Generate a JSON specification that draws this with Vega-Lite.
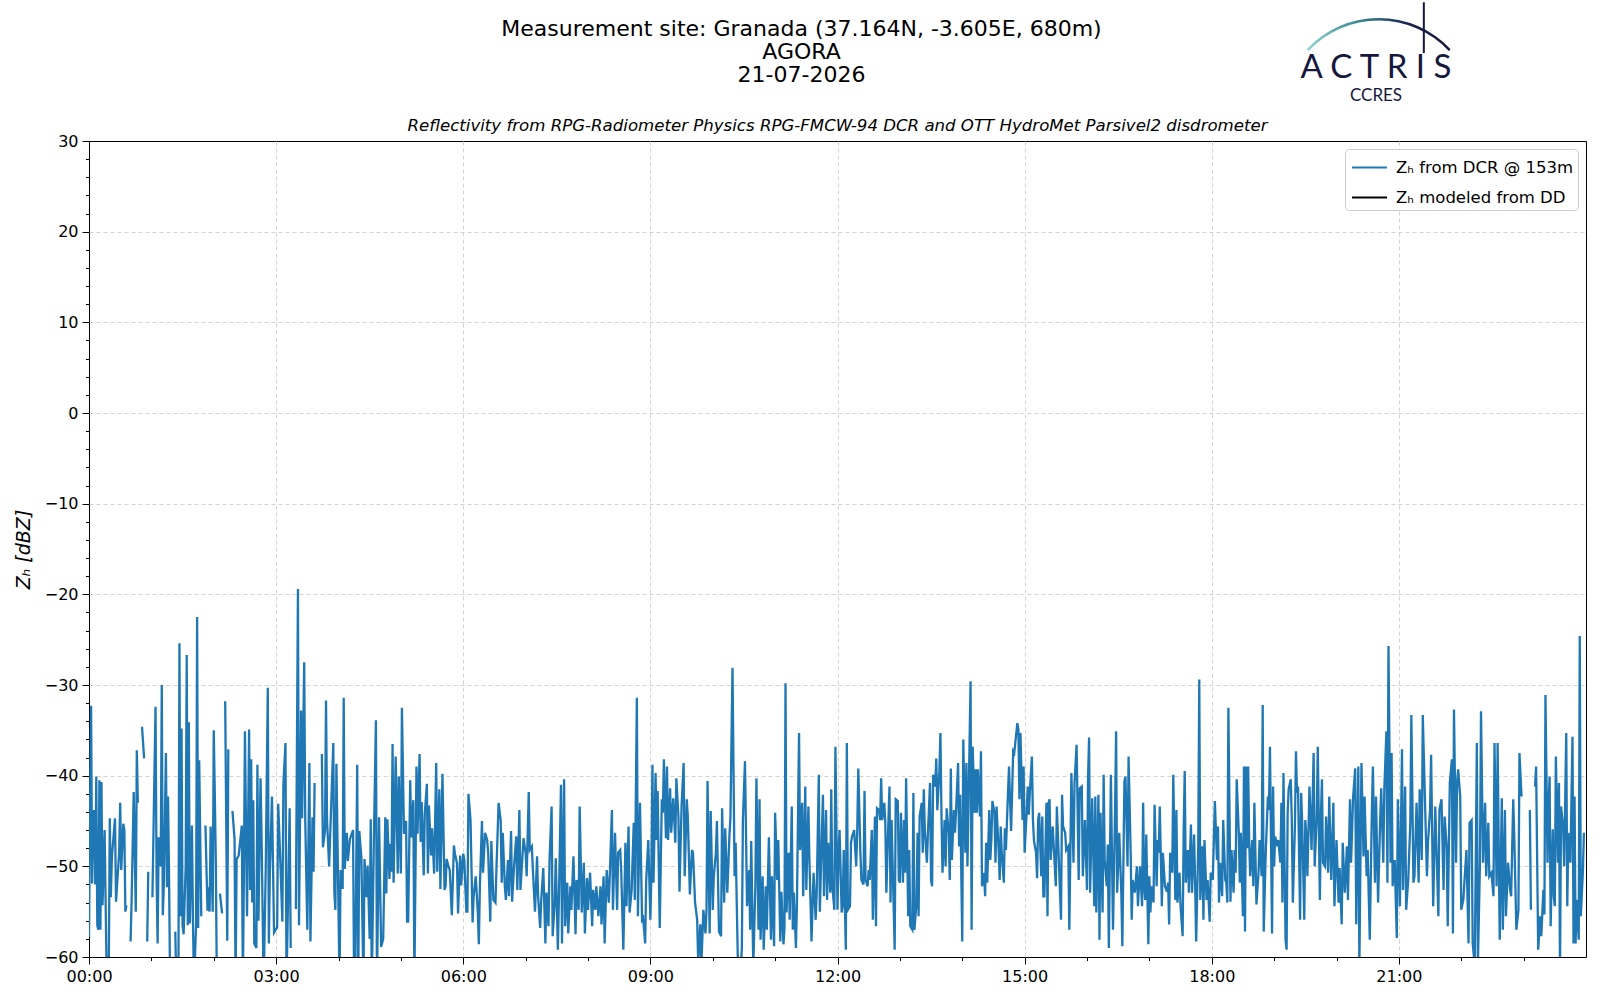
{
  "$schema": "https://vega.github.io/schema/vega-lite/v6.json",
  "width": 1497,
  "height": 816,
  "autosize": "none",
  "padding": {"left": 89, "top": 141, "right": 14, "bottom": 43},
  "background": "white",
  "config": {
    "font": "DejaVu Sans",
    "view": {"stroke": "black", "strokeWidth": 1},
    "axis": {
      "labelFont": "DejaVu Sans",
      "labelFontSize": 16,
      "labelColor": "black",
      "tickColor": "black",
      "domainColor": "black",
      "titleFont": "DejaVu Sans",
      "titleColor": "black",
      "titleFontWeight": "normal"
    },
    "legend": {
      "orient": "top-right",
      "offset": 8,
      "symbolType": "M-1.3,0H1.3",
      "symbolStrokeWidth": 2,
      "symbolSize": 729,
      "symbolOffset": 6,
      "labelFont": "DejaVu Sans",
      "labelFontSize": 16.5,
      "labelColor": "black",
      "labelLimit": 0,
      "labelOffset": 12,
      "fillColor": "white",
      "strokeColor": "#cccccc",
      "cornerRadius": 4,
      "padding": 4,
      "rowPadding": 7
    }
  },
  "title": {
    "text": ["Measurement site: Granada (37.164N, -3.605E, 680m)", "AGORA", "21-07-2026"],
    "font": "DejaVu Sans",
    "fontSize": 22,
    "fontWeight": "normal",
    "lineHeight": 23,
    "color": "black",
    "anchor": "middle",
    "dx": -36,
    "offset": -86
  },
  "data": {
    "format": {"parse": {"t": "date:'%H:%M'"}},
    "values": [
      {"t":"00:00","z":-57.8},{"t":"00:01","z":-44},{"t":"00:02","z":-32.3},{"t":"00:03","z":-51.9},{"t":"00:04","z":-44.4},{"t":"00:05","z":-43.8},{"t":"00:06","z":-52},{"t":"00:07","z":-40.1},{"t":"00:08","z":-56.5},{"t":"00:09","z":-57},{"t":"00:10","z":-40.5},{"t":"00:11","z":-57},{"t":"00:12","z":-40.7},{"t":"00:13","z":-54.3},{"t":"00:15","z":-46},{"t":"00:16","z":-54},{"t":"00:17","z":-62},{"t":"00:19","z":-62},{"t":"00:20","z":-44.7},{"t":"00:21","z":-53.4},{"t":"00:22","z":-49},{"t":"00:25","z":-44.7},{"t":"00:26","z":-53.9},{"t":"00:29","z":-48.5},{"t":"00:30","z":-43},{"t":"00:31","z":-50.4},{"t":"00:33","z":-45.3},{"t":"00:34","z":-46},{"t":"00:35","z":-55},{"t":"00:36","z":-54.3},{"t":"00:38","z":null},{"t":"00:40","z":-58.3},{"t":"00:41","z":-53.7},{"t":"00:43","z":-41.8},{"t":"00:45","z":-55},{"t":"00:46","z":-37.2},{"t":"00:47","z":-43},{"t":"00:49","z":null},{"t":"00:51","z":-34.6},{"t":"00:53","z":-38.1},{"t":"00:54","z":null},{"t":"00:56","z":-58.3},{"t":"00:57","z":-50.6},{"t":"00:59","z":null},
      {"t":"01:01","z":-53.4},{"t":"01:04","z":-32.4},{"t":"01:05","z":-51},{"t":"01:06","z":-58.5},{"t":"01:07","z":-46.8},{"t":"01:09","z":-50},{"t":"01:10","z":-30},{"t":"01:11","z":-55.4},{"t":"01:12","z":-52},{"t":"01:14","z":-37.5},{"t":"01:15","z":-52.3},{"t":"01:16","z":-42.3},{"t":"01:17","z":-51},{"t":"01:18","z":-63},{"t":"01:20","z":null},{"t":"01:23","z":-57.2},{"t":"01:24","z":-63},{"t":"01:26","z":-63},{"t":"01:27","z":-25.4},{"t":"01:28","z":-55.5},{"t":"01:29","z":-34.8},{"t":"01:30","z":-56.5},{"t":"01:31","z":-57.5},{"t":"01:33","z":-50},{"t":"01:34","z":-26.7},{"t":"01:35","z":-56.5},{"t":"01:36","z":-34.1},{"t":"01:37","z":-56.3},{"t":"01:39","z":-45.5},{"t":"01:40","z":-56},{"t":"01:41","z":-63},{"t":"01:43","z":-56.5},{"t":"01:44","z":-22.5},{"t":"01:45","z":-56.8},{"t":"01:46","z":-38.3},{"t":"01:48","z":-55.5},{"t":"01:50","z":null},{"t":"01:52","z":-45.5},{"t":"01:54","z":-54.9},{"t":"01:55","z":-52.3},{"t":"01:56","z":-55},{"t":"01:57","z":-45.6},{"t":"01:59","z":-55},
      {"t":"02:00","z":-35},{"t":"02:01","z":-42},{"t":"02:02","z":-49.7},{"t":"02:03","z":-63},{"t":"02:05","z":null},{"t":"02:06","z":-53},{"t":"02:08","z":-55.2},{"t":"02:10","z":null},{"t":"02:11","z":-31.8},{"t":"02:13","z":-58.2},{"t":"02:14","z":-37.1},{"t":"02:16","z":null},{"t":"02:18","z":-43.9},{"t":"02:20","z":-47},{"t":"02:21","z":-63},{"t":"02:22","z":-49.2},{"t":"02:24","z":-48.8},{"t":"02:27","z":-45.5},{"t":"02:28","z":-63},{"t":"02:29","z":-51},{"t":"02:30","z":-35.1},{"t":"02:32","z":-55.5},{"t":"02:33","z":-46},{"t":"02:34","z":-34.9},{"t":"02:35","z":-52.6},{"t":"02:36","z":-38.2},{"t":"02:37","z":-54},{"t":"02:38","z":-42.7},{"t":"02:39","z":-58.5},{"t":"02:41","z":-59},{"t":"02:42","z":-38.8},{"t":"02:43","z":-56},{"t":"02:45","z":-40.3},{"t":"02:46","z":-46.7},{"t":"02:48","z":-63},{"t":"02:50","z":-50.4},{"t":"02:52","z":-30.3},{"t":"02:53","z":-58.5},{"t":"02:54","z":-50.4},{"t":"02:56","z":-42.3},{"t":"02:57","z":-50},{"t":"02:58","z":-57.3},
      {"t":"03:01","z":-56.7},{"t":"03:02","z":-43.1},{"t":"03:04","z":-49.3},{"t":"03:06","z":-56.1},{"t":"03:07","z":-40.9},{"t":"03:09","z":-36.4},{"t":"03:10","z":-63},{"t":"03:13","z":-43.6},{"t":"03:14","z":-59},{"t":"03:16","z":null},{"t":"03:19","z":-54.7},{"t":"03:21","z":-19.4},{"t":"03:22","z":-56.5},{"t":"03:24","z":-32.8},{"t":"03:25","z":-44.7},{"t":"03:27","z":-27.5},{"t":"03:28","z":-44.8},{"t":"03:30","z":-57},{"t":"03:32","z":-38.6},{"t":"03:33","z":-58.3},{"t":"03:35","z":-44.6},{"t":"03:36","z":-50.6},{"t":"03:37","z":-40.8},{"t":"03:39","z":null},{"t":"03:44","z":-37.6},{"t":"03:45","z":-47.9},{"t":"03:47","z":-46.1},{"t":"03:48","z":-31.7},{"t":"03:49","z":-45},{"t":"03:51","z":-50},{"t":"03:55","z":-36.4},{"t":"03:56","z":-52.8},{"t":"03:57","z":-54.8},{"t":"03:58","z":-38.7},
      {"t":"04:01","z":-63},{"t":"04:02","z":-50.4},{"t":"04:04","z":-52.5},{"t":"04:05","z":-31.4},{"t":"04:06","z":-50.3},{"t":"04:08","z":-46.3},{"t":"04:09","z":-49.4},{"t":"04:11","z":-47},{"t":"04:14","z":-46},{"t":"04:15","z":-63},{"t":"04:16","z":-63},{"t":"04:18","z":-38.8},{"t":"04:19","z":-63},{"t":"04:20","z":-46.1},{"t":"04:22","z":-49},{"t":"04:24","z":-63},{"t":"04:25","z":-49.2},{"t":"04:27","z":-53.4},{"t":"04:28","z":-49.9},{"t":"04:30","z":-58},{"t":"04:31","z":-44.8},{"t":"04:32","z":-63},{"t":"04:34","z":-47.3},{"t":"04:36","z":-33.9},{"t":"04:37","z":-63},{"t":"04:39","z":-44.6},{"t":"04:41","z":-58.9},{"t":"04:43","z":-58},{"t":"04:45","z":-44.6},{"t":"04:46","z":-53},{"t":"04:47","z":-44.8},{"t":"04:49","z":-51.4},{"t":"04:50","z":-47.5},{"t":"04:51","z":-50.6},{"t":"04:52","z":-36.5},{"t":"04:53","z":-51.8},{"t":"04:55","z":-37.9},{"t":"04:57","z":-50.8},{"t":"04:58","z":-40.1},
      {"t":"05:00","z":-50.8},{"t":"05:01","z":-32.5},{"t":"05:03","z":-46.4},{"t":"05:05","z":-45},{"t":"05:06","z":-56.1},{"t":"05:07","z":-56.1},{"t":"05:09","z":-40.5},{"t":"05:10","z":-46.8},{"t":"05:12","z":-42.7},{"t":"05:13","z":-63},{"t":"05:15","z":-39},{"t":"05:16","z":-46.4},{"t":"05:18","z":-37.6},{"t":"05:19","z":-47.3},{"t":"05:20","z":-42.9},{"t":"05:22","z":-51},{"t":"05:23","z":-44.2},{"t":"05:25","z":-40.9},{"t":"05:26","z":-50.8},{"t":"05:27","z":-43.3},{"t":"05:29","z":-48.8},{"t":"05:30","z":-45.8},{"t":"05:32","z":-50.8},{"t":"05:34","z":-38.6},{"t":"05:35","z":-50.6},{"t":"05:37","z":-41.5},{"t":"05:38","z":-52.5},{"t":"05:40","z":-39.8},{"t":"05:42","z":-52.6},{"t":"05:43","z":-52.2},{"t":"05:44","z":-49.2},{"t":"05:46","z":-50.1},{"t":"05:47","z":-50.4},{"t":"05:49","z":-55.4},{"t":"05:51","z":-47.7},{"t":"05:52","z":-48.6},{"t":"05:54","z":-49.7},{"t":"05:55","z":-55.2},{"t":"05:57","z":-48.8},{"t":"05:58","z":-52.1},
      {"t":"06:00","z":-48.6},{"t":"06:01","z":-49.3},{"t":"06:03","z":-55},{"t":"06:04","z":-55},{"t":"06:05","z":-42},{"t":"06:07","z":-44.9},{"t":"06:09","z":-56.2},{"t":"06:10","z":-53.3},{"t":"06:12","z":-51.1},{"t":"06:14","z":-55.1},{"t":"06:15","z":-58.6},{"t":"06:16","z":-52.2},{"t":"06:18","z":-45},{"t":"06:19","z":-50.7},{"t":"06:21","z":-46.3},{"t":"06:23","z":-47.1},{"t":"06:24","z":-48.5},{"t":"06:26","z":-56.1},{"t":"06:27","z":-47.2},{"t":"06:29","z":-53.7},{"t":"06:31","z":-54},{"t":"06:32","z":-50},{"t":"06:34","z":-43},{"t":"06:36","z":-44.9},{"t":"06:37","z":-51.8},{"t":"06:38","z":-46.3},{"t":"06:40","z":-52.2},{"t":"06:41","z":-53.7},{"t":"06:43","z":-49.3},{"t":"06:44","z":-53.3},{"t":"06:46","z":-46.1},{"t":"06:47","z":-53.9},{"t":"06:49","z":-49.8},{"t":"06:51","z":-46.7},{"t":"06:52","z":-52.6},{"t":"06:54","z":-43.8},{"t":"06:55","z":-52.6},{"t":"06:58","z":-46.9},
      {"t":"07:00","z":-48.5},{"t":"07:01","z":-51.1},{"t":"07:03","z":-41.8},{"t":"07:04","z":-48.2},{"t":"07:06","z":-47.8},{"t":"07:07","z":-50.4},{"t":"07:09","z":-55},{"t":"07:11","z":-48.9},{"t":"07:12","z":-53.3},{"t":"07:14","z":-56.8},{"t":"07:15","z":-53.7},{"t":"07:17","z":-50.2},{"t":"07:19","z":-58.5},{"t":"07:20","z":-52.9},{"t":"07:22","z":-56.6},{"t":"07:23","z":-49.3},{"t":"07:25","z":-43.4},{"t":"07:26","z":-57.7},{"t":"07:28","z":-54},{"t":"07:29","z":-49.1},{"t":"07:31","z":-59.2},{"t":"07:32","z":-53.7},{"t":"07:34","z":-41},{"t":"07:35","z":-58.5},{"t":"07:37","z":-40.4},{"t":"07:38","z":-56.6},{"t":"07:40","z":-51.8},{"t":"07:41","z":-57.4},{"t":"07:43","z":-52.2},{"t":"07:44","z":-54.8},{"t":"07:46","z":-48.9},{"t":"07:48","z":-57.5},{"t":"07:49","z":-51.5},{"t":"07:51","z":-54.8},{"t":"07:52","z":-43.4},{"t":"07:54","z":-55.1},{"t":"07:56","z":-49.6},{"t":"07:57","z":-57.4},{"t":"07:59","z":-51.3},
      {"t":"08:00","z":-54.8},{"t":"08:02","z":-50.7},{"t":"08:04","z":-56.6},{"t":"08:05","z":-52.6},{"t":"08:07","z":-54.8},{"t":"08:08","z":-52.2},{"t":"08:10","z":-55.5},{"t":"08:12","z":-52.2},{"t":"08:13","z":-56.4},{"t":"08:15","z":-51.1},{"t":"08:16","z":-58.5},{"t":"08:18","z":-50.4},{"t":"08:20","z":-54},{"t":"08:21","z":-50.9},{"t":"08:23","z":-43.8},{"t":"08:24","z":-54.8},{"t":"08:26","z":-46.3},{"t":"08:28","z":-54.8},{"t":"08:29","z":-48.5},{"t":"08:31","z":-48.2},{"t":"08:32","z":-50.7},{"t":"08:34","z":-59.2},{"t":"08:36","z":-47.4},{"t":"08:37","z":-54.4},{"t":"08:39","z":-45.6},{"t":"08:40","z":-55.1},{"t":"08:42","z":-52.6},{"t":"08:44","z":-45.2},{"t":"08:45","z":-53.7},{"t":"08:47","z":-31.4},{"t":"08:48","z":-55.5},{"t":"08:50","z":-43},{"t":"08:52","z":-55.9},{"t":"08:53","z":-55.7},{"t":"08:55","z":-58.5},{"t":"08:56","z":-51.5},{"t":"08:58","z":-47.1},
      {"t":"09:00","z":-55.9},{"t":"09:01","z":-50.7},{"t":"09:02","z":-38.8},{"t":"09:03","z":-51.8},{"t":"09:05","z":-39.7},{"t":"09:06","z":-47.1},{"t":"09:07","z":-41.7},{"t":"09:09","z":-56.8},{"t":"09:11","z":-42.6},{"t":"09:12","z":-44.1},{"t":"09:13","z":-38.2},{"t":"09:15","z":-46.9},{"t":"09:16","z":-39},{"t":"09:17","z":-47.1},{"t":"09:19","z":-41.4},{"t":"09:20","z":-46.3},{"t":"09:22","z":-42.5},{"t":"09:24","z":-47.4},{"t":"09:25","z":-40.3},{"t":"09:27","z":-44.5},{"t":"09:28","z":-52.8},{"t":"09:30","z":-43.4},{"t":"09:32","z":-38.6},{"t":"09:33","z":-51.1},{"t":"09:35","z":-42.6},{"t":"09:36","z":-44.5},{"t":"09:38","z":-53.1},{"t":"09:40","z":-48.2},{"t":"09:41","z":-48.5},{"t":"09:43","z":-54},{"t":"09:45","z":-55.9},{"t":"09:46","z":-60.5},{"t":"09:48","z":-56.4},{"t":"09:49","z":-61},{"t":"09:51","z":-54.8},{"t":"09:53","z":-57.4},{"t":"09:54","z":-54.8},{"t":"09:55","z":-40.6},{"t":"09:57","z":-57.4},{"t":"09:58","z":-43.9},
      {"t":"10:00","z":-54.8},{"t":"10:01","z":-51.1},{"t":"10:03","z":-48.5},{"t":"10:04","z":-45},{"t":"10:06","z":-57.2},{"t":"10:08","z":-57.7},{"t":"10:09","z":-43.6},{"t":"10:11","z":-54},{"t":"10:12","z":-45.8},{"t":"10:14","z":-52.9},{"t":"10:16","z":-46.7},{"t":"10:17","z":-44.7},{"t":"10:19","z":-28.1},{"t":"10:21","z":-51.1},{"t":"10:22","z":-47.4},{"t":"10:24","z":-59.6},{"t":"10:25","z":-63},{"t":"10:26","z":-63},{"t":"10:28","z":-59},{"t":"10:29","z":-44.9},{"t":"10:31","z":-38.4},{"t":"10:33","z":-54.4},{"t":"10:35","z":-50.4},{"t":"10:36","z":-57},{"t":"10:37","z":-47.2},{"t":"10:39","z":-61},{"t":"10:41","z":-52.2},{"t":"10:42","z":-40.3},{"t":"10:44","z":-57},{"t":"10:45","z":-42.6},{"t":"10:46","z":-58.1},{"t":"10:48","z":-51.1},{"t":"10:49","z":-59.2},{"t":"10:51","z":-52.2},{"t":"10:52","z":-57},{"t":"10:54","z":-46.8},{"t":"10:56","z":-58.1},{"t":"10:57","z":-51.1},{"t":"10:59","z":-58.8},
      {"t":"11:00","z":-44.1},{"t":"11:02","z":-51.5},{"t":"11:03","z":-47.1},{"t":"11:05","z":-58.3},{"t":"11:06","z":-52.8},{"t":"11:08","z":-58.6},{"t":"11:09","z":-56.8},{"t":"11:10","z":-29.8},{"t":"11:11","z":-55.1},{"t":"11:13","z":-48.5},{"t":"11:14","z":-55.9},{"t":"11:16","z":-43.4},{"t":"11:17","z":-57},{"t":"11:18","z":-52.9},{"t":"11:20","z":-59},{"t":"11:21","z":-54},{"t":"11:23","z":-35.3},{"t":"11:24","z":-48.2},{"t":"11:26","z":-43},{"t":"11:27","z":-53.3},{"t":"11:29","z":-41.2},{"t":"11:30","z":-52.6},{"t":"11:32","z":-43.4},{"t":"11:33","z":-49.3},{"t":"11:35","z":-58.3},{"t":"11:36","z":-54.4},{"t":"11:37","z":-50.7},{"t":"11:39","z":-55.9},{"t":"11:40","z":-52.9},{"t":"11:42","z":-39.9},{"t":"11:43","z":-55},{"t":"11:45","z":-46.3},{"t":"11:46","z":-42.1},{"t":"11:47","z":-53.3},{"t":"11:49","z":-43.8},{"t":"11:50","z":-53.7},{"t":"11:51","z":-47.4},{"t":"11:53","z":-52.9},{"t":"11:54","z":-41.5},{"t":"11:55","z":-52.2},{"t":"11:57","z":-54.8},{"t":"11:58","z":-36.8},
      {"t":"12:00","z":-54.8},{"t":"12:01","z":-48.5},{"t":"12:02","z":-46},{"t":"12:04","z":-55.1},{"t":"12:05","z":-54.4},{"t":"12:06","z":-48.2},{"t":"12:08","z":-59.2},{"t":"12:09","z":-36.4},{"t":"12:10","z":-54.8},{"t":"12:12","z":-54.4},{"t":"12:13","z":-47.4},{"t":"12:14","z":-46.7},{"t":"12:16","z":-46},{"t":"12:18","z":-50},{"t":"12:19","z":-46},{"t":"12:20","z":-39.2},{"t":"12:22","z":-48.5},{"t":"12:23","z":-51.5},{"t":"12:25","z":-52},{"t":"12:26","z":-41.7},{"t":"12:27","z":-51.5},{"t":"12:29","z":-52.2},{"t":"12:30","z":-50.4},{"t":"12:31","z":-51.5},{"t":"12:33","z":-46},{"t":"12:34","z":-55.9},{"t":"12:36","z":-44.5},{"t":"12:37","z":-56.6},{"t":"12:38","z":-43.6},{"t":"12:40","z":-43.8},{"t":"12:41","z":-44.9},{"t":"12:42","z":-40.3},{"t":"12:43","z":-44.9},{"t":"12:45","z":-43},{"t":"12:46","z":-45.2},{"t":"12:47","z":-52.9},{"t":"12:49","z":-44.9},{"t":"12:50","z":-41.2},{"t":"12:51","z":-54},{"t":"12:52","z":-44.9},{"t":"12:54","z":-54.4},{"t":"12:55","z":-59.2},{"t":"12:56","z":-42.6},{"t":"12:58","z":-42.8},{"t":"12:59","z":-51.5},
      {"t":"13:00","z":-51.8},{"t":"13:01","z":-44.1},{"t":"13:03","z":-51.8},{"t":"13:04","z":-44.9},{"t":"13:05","z":-50.7},{"t":"13:06","z":-40.3},{"t":"13:08","z":-55.5},{"t":"13:09","z":-48.2},{"t":"13:10","z":-56.6},{"t":"13:12","z":-57},{"t":"13:13","z":-41.9},{"t":"13:14","z":-57},{"t":"13:16","z":-54},{"t":"13:17","z":-46.3},{"t":"13:18","z":-55.5},{"t":"13:19","z":-44.5},{"t":"13:21","z":-43},{"t":"13:22","z":-48.5},{"t":"13:23","z":-41.5},{"t":"13:24","z":-46},{"t":"13:26","z":-49.6},{"t":"13:27","z":-46.3},{"t":"13:29","z":-40.8},{"t":"13:30","z":-51.5},{"t":"13:31","z":-52.2},{"t":"13:32","z":-39.9},{"t":"13:34","z":-41.2},{"t":"13:35","z":-38.1},{"t":"13:36","z":-43.8},{"t":"13:38","z":-39.5},{"t":"13:39","z":-35.3},{"t":"13:40","z":-44.1},{"t":"13:41","z":-50.7},{"t":"13:43","z":-44.9},{"t":"13:44","z":-50},{"t":"13:45","z":-43.6},{"t":"13:47","z":-46.3},{"t":"13:48","z":-51.5},{"t":"13:49","z":-39.2},{"t":"13:50","z":-49.3},{"t":"13:52","z":-43.8},{"t":"13:53","z":-46.3},{"t":"13:54","z":-44},{"t":"13:56","z":-38.6},{"t":"13:57","z":-47.8},{"t":"13:58","z":-42.1},
      {"t":"14:00","z":-58.3},{"t":"14:01","z":-36},{"t":"14:03","z":-48.5},{"t":"14:04","z":-38.6},{"t":"14:05","z":-50},{"t":"14:06","z":-43.4},{"t":"14:08","z":-29.6},{"t":"14:09","z":-57},{"t":"14:10","z":-36.8},{"t":"14:12","z":-44.1},{"t":"14:13","z":-39.3},{"t":"14:14","z":-44.1},{"t":"14:15","z":-39.3},{"t":"14:17","z":-44.5},{"t":"14:18","z":-37.3},{"t":"14:19","z":-52.2},{"t":"14:21","z":-50.7},{"t":"14:22","z":-53.3},{"t":"14:23","z":-47.4},{"t":"14:24","z":-51.8},{"t":"14:26","z":-43.8},{"t":"14:27","z":-49.3},{"t":"14:28","z":-47.1},{"t":"14:29","z":-42.8},{"t":"14:31","z":-44.1},{"t":"14:32","z":-49.6},{"t":"14:33","z":-43.4},{"t":"14:35","z":-48.2},{"t":"14:36","z":-51.5},{"t":"14:37","z":-45.6},{"t":"14:38","z":-48.5},{"t":"14:40","z":-51.8},{"t":"14:41","z":-45.8},{"t":"14:42","z":-48.2},{"t":"14:44","z":-41.9},{"t":"14:45","z":-39},{"t":"14:46","z":-42.8},{"t":"14:47","z":-46.1},{"t":"14:49","z":-37.3},{"t":"14:50","z":-37.5},{"t":"14:51","z":-36.4},{"t":"14:53","z":-34.2},{"t":"14:54","z":-34.9},{"t":"14:55","z":-42.6},{"t":"14:56","z":-35.3},{"t":"14:58","z":-44.9},{"t":"14:59","z":-39},
      {"t":"15:00","z":-48.5},{"t":"15:02","z":-43.8},{"t":"15:03","z":-41.2},{"t":"15:04","z":-44.3},{"t":"15:05","z":-41.9},{"t":"15:07","z":-37.9},{"t":"15:08","z":-44.9},{"t":"15:09","z":-47.2},{"t":"15:11","z":-48.5},{"t":"15:12","z":-51.3},{"t":"15:13","z":-44.9},{"t":"15:14","z":-44.1},{"t":"15:16","z":-51.1},{"t":"15:17","z":-44.5},{"t":"15:18","z":-53.3},{"t":"15:19","z":-53.3},{"t":"15:21","z":-43},{"t":"15:22","z":-55.5},{"t":"15:23","z":-43},{"t":"15:24","z":-42.6},{"t":"15:25","z":-49.3},{"t":"15:27","z":-45.6},{"t":"15:28","z":-47.8},{"t":"15:30","z":-52.2},{"t":"15:31","z":-43.4},{"t":"15:33","z":-49.6},{"t":"15:35","z":-55.9},{"t":"15:36","z":-42.1},{"t":"15:37","z":-45.6},{"t":"15:39","z":-46.3},{"t":"15:40","z":-48.2},{"t":"15:42","z":-47.8},{"t":"15:43","z":-57},{"t":"15:45","z":-39.7},{"t":"15:47","z":-49.6},{"t":"15:48","z":-40.8},{"t":"15:50","z":-36.6},{"t":"15:52","z":-51.5},{"t":"15:53","z":-41.4},{"t":"15:55","z":-41.2},{"t":"15:56","z":-51.1},{"t":"15:58","z":-44.9},
      {"t":"16:00","z":-52.6},{"t":"16:01","z":-40.3},{"t":"16:02","z":-35.8},{"t":"16:03","z":-52.9},{"t":"16:05","z":-42.5},{"t":"16:07","z":-54.4},{"t":"16:08","z":-42.3},{"t":"16:09","z":-55.1},{"t":"16:11","z":-42.1},{"t":"16:12","z":-58.1},{"t":"16:13","z":-44.1},{"t":"16:15","z":-55.1},{"t":"16:16","z":-39.9},{"t":"16:17","z":-49.3},{"t":"16:19","z":-52.2},{"t":"16:20","z":-47.6},{"t":"16:21","z":-59},{"t":"16:23","z":-39.9},{"t":"16:24","z":-48.5},{"t":"16:25","z":-57},{"t":"16:27","z":-43.8},{"t":"16:28","z":-35.1},{"t":"16:29","z":-52.9},{"t":"16:31","z":-46.3},{"t":"16:33","z":-52.9},{"t":"16:34","z":-58.8},{"t":"16:36","z":-40.6},{"t":"16:37","z":-40.1},{"t":"16:39","z":-50},{"t":"16:40","z":-37.9},{"t":"16:42","z":-48.5},{"t":"16:43","z":-55.9},{"t":"16:44","z":-51.5},{"t":"16:46","z":-52.9},{"t":"16:48","z":-50},{"t":"16:49","z":-54.4},{"t":"16:51","z":-50},{"t":"16:53","z":-54.4},{"t":"16:54","z":-43},{"t":"16:55","z":-52.2},{"t":"16:56","z":-53.7},{"t":"16:57","z":-46.5},{"t":"16:59","z":-58.6},
      {"t":"17:00","z":-51.1},{"t":"17:01","z":-55.1},{"t":"17:02","z":-52.2},{"t":"17:04","z":-54},{"t":"17:05","z":-43.2},{"t":"17:07","z":-52.2},{"t":"17:08","z":-47.1},{"t":"17:09","z":-48.5},{"t":"17:10","z":-43.4},{"t":"17:12","z":-54.4},{"t":"17:13","z":-48.5},{"t":"17:15","z":-52.2},{"t":"17:17","z":-52.8},{"t":"17:18","z":-51.8},{"t":"17:19","z":-56.4},{"t":"17:20","z":-48.5},{"t":"17:22","z":-50.7},{"t":"17:23","z":-39.9},{"t":"17:25","z":-53.7},{"t":"17:26","z":-43.8},{"t":"17:27","z":-54},{"t":"17:29","z":-50.7},{"t":"17:30","z":-54.4},{"t":"17:32","z":-57.7},{"t":"17:33","z":-46},{"t":"17:34","z":-39.5},{"t":"17:35","z":-51.8},{"t":"17:37","z":-48.2},{"t":"17:38","z":-52.9},{"t":"17:40","z":-45.4},{"t":"17:41","z":-52.9},{"t":"17:43","z":-46.5},{"t":"17:44","z":-51.8},{"t":"17:45","z":-58.3},{"t":"17:47","z":-47.8},{"t":"17:48","z":-29.4},{"t":"17:49","z":-53.7},{"t":"17:51","z":-47.8},{"t":"17:52","z":-55.9},{"t":"17:53","z":-47.1},{"t":"17:55","z":-53.7},{"t":"17:56","z":-51.5},{"t":"17:58","z":-56.1},{"t":"17:59","z":-50.7},
      {"t":"18:01","z":-51.5},{"t":"18:02","z":-47.1},{"t":"18:03","z":-42.8},{"t":"18:05","z":-49.3},{"t":"18:06","z":-45.6},{"t":"18:07","z":-54},{"t":"18:08","z":-49.6},{"t":"18:10","z":-53.3},{"t":"18:11","z":-44.9},{"t":"18:13","z":-51.5},{"t":"18:14","z":-51.8},{"t":"18:15","z":-54},{"t":"18:16","z":-32.5},{"t":"18:18","z":-53.9},{"t":"18:19","z":-48.2},{"t":"18:21","z":-52.9},{"t":"18:22","z":-48.2},{"t":"18:23","z":-50.7},{"t":"18:24","z":-40.4},{"t":"18:26","z":-46.3},{"t":"18:27","z":-51.8},{"t":"18:28","z":-46.3},{"t":"18:30","z":-55.5},{"t":"18:31","z":-39},{"t":"18:32","z":-57.2},{"t":"18:33","z":-39},{"t":"18:34","z":-48},{"t":"18:35","z":-39},{"t":"18:36","z":-47.1},{"t":"18:37","z":-51.1},{"t":"18:39","z":-47.1},{"t":"18:40","z":-52.2},{"t":"18:41","z":-43},{"t":"18:43","z":-54.2},{"t":"18:45","z":-50.7},{"t":"18:46","z":-47.1},{"t":"18:48","z":-51.1},{"t":"18:49","z":-32.2},{"t":"18:50","z":-57.2},{"t":"18:52","z":-48.2},{"t":"18:54","z":-42.3},{"t":"18:55","z":-43.8},{"t":"18:56","z":-36.8},{"t":"18:58","z":-57.4},{"t":"18:59","z":-41.2},
      {"t":"19:00","z":-50},{"t":"19:01","z":-46.7},{"t":"19:03","z":-47.8},{"t":"19:04","z":-47.1},{"t":"19:06","z":-49.6},{"t":"19:07","z":-43},{"t":"19:08","z":-54},{"t":"19:09","z":-39.7},{"t":"19:11","z":-58.1},{"t":"19:12","z":-59.2},{"t":"19:13","z":-44.1},{"t":"19:14","z":-41.5},{"t":"19:16","z":-40.4},{"t":"19:17","z":-44.9},{"t":"19:18","z":-54},{"t":"19:20","z":-45.6},{"t":"19:21","z":-37.3},{"t":"19:22","z":-41.9},{"t":"19:23","z":-41.2},{"t":"19:25","z":-55.9},{"t":"19:26","z":-41.9},{"t":"19:27","z":-45.2},{"t":"19:29","z":-55.9},{"t":"19:30","z":-44.9},{"t":"19:31","z":-46.7},{"t":"19:32","z":-51.1},{"t":"19:34","z":-41.2},{"t":"19:36","z":-48.2},{"t":"19:38","z":-37.5},{"t":"19:39","z":-50},{"t":"19:41","z":-44.5},{"t":"19:42","z":-36.8},{"t":"19:44","z":-53.7},{"t":"19:45","z":-44.5},{"t":"19:46","z":-40.4},{"t":"19:47","z":-49.6},{"t":"19:49","z":-50},{"t":"19:50","z":-44.5},{"t":"19:52","z":-50.7},{"t":"19:53","z":-42.3},{"t":"19:55","z":-51.5},{"t":"19:57","z":-43},{"t":"19:58","z":-54.4},
      {"t":"20:00","z":-47.1},{"t":"20:02","z":-54},{"t":"20:03","z":-50.2},{"t":"20:05","z":-56.4},{"t":"20:06","z":-47.4},{"t":"20:08","z":-52.9},{"t":"20:10","z":-47.8},{"t":"20:11","z":-53.7},{"t":"20:13","z":-42.6},{"t":"20:14","z":-49.6},{"t":"20:16","z":-42.3},{"t":"20:18","z":-39.2},{"t":"20:19","z":-56.4},{"t":"20:21","z":-39},{"t":"20:22","z":-61},{"t":"20:24","z":-38.6},{"t":"20:26","z":-48.9},{"t":"20:27","z":-42.3},{"t":"20:29","z":-51.1},{"t":"20:30","z":-48.2},{"t":"20:32","z":-58.1},{"t":"20:34","z":-44.1},{"t":"20:35","z":-39},{"t":"20:37","z":-51.8},{"t":"20:38","z":-42.3},{"t":"20:40","z":-54},{"t":"20:42","z":-44.9},{"t":"20:43","z":-41.4},{"t":"20:45","z":-49.6},{"t":"20:46","z":-41.5},{"t":"20:48","z":-35.1},{"t":"20:49","z":-51.8},{"t":"20:50","z":-25.7},{"t":"20:52","z":-49.6},{"t":"20:53","z":-37.5},{"t":"20:54","z":-52.2},{"t":"20:56","z":-49.3},{"t":"20:58","z":-57.9},{"t":"20:59","z":-42.6},
      {"t":"21:01","z":-54.4},{"t":"21:03","z":-37.1},{"t":"21:04","z":-52.6},{"t":"21:06","z":-41.2},{"t":"21:07","z":-54.8},{"t":"21:09","z":-51.5},{"t":"21:11","z":-45.2},{"t":"21:12","z":-33.3},{"t":"21:14","z":-51.8},{"t":"21:15","z":-51.1},{"t":"21:17","z":-43},{"t":"21:19","z":-51.8},{"t":"21:20","z":-41.5},{"t":"21:22","z":-49.3},{"t":"21:23","z":-33.3},{"t":"21:25","z":-42.3},{"t":"21:27","z":-51.1},{"t":"21:28","z":-47.4},{"t":"21:30","z":-43.8},{"t":"21:31","z":-37.7},{"t":"21:33","z":-54.4},{"t":"21:35","z":-43.4},{"t":"21:36","z":-47.4},{"t":"21:38","z":-55.5},{"t":"21:39","z":-43.8},{"t":"21:41","z":-42.6},{"t":"21:43","z":-52.6},{"t":"21:44","z":-44.5},{"t":"21:46","z":-47.8},{"t":"21:47","z":-56.6},{"t":"21:49","z":-40.8},{"t":"21:51","z":-38.2},{"t":"21:52","z":-57.4},{"t":"21:53","z":-32.7},{"t":"21:55","z":-49.6},{"t":"21:56","z":-40.8},{"t":"21:57","z":-39.3},{"t":"21:59","z":-42.3},
      {"t":"22:00","z":-54.8},{"t":"22:02","z":-53.7},{"t":"22:03","z":-51.8},{"t":"22:05","z":-48.2},{"t":"22:07","z":-58.5},{"t":"22:08","z":-45.2},{"t":"22:10","z":-44.9},{"t":"22:11","z":-58.5},{"t":"22:13","z":-61},{"t":"22:15","z":-36.4},{"t":"22:16","z":-61},{"t":"22:18","z":-49.6},{"t":"22:19","z":-32.9},{"t":"22:21","z":-49.6},{"t":"22:23","z":-43},{"t":"22:24","z":-51.1},{"t":"22:26","z":-45.2},{"t":"22:27","z":-51.1},{"t":"22:29","z":-50.7},{"t":"22:31","z":-53.3},{"t":"22:32","z":-36.4},{"t":"22:34","z":-52.2},{"t":"22:35","z":-36.4},{"t":"22:37","z":-58.1},{"t":"22:39","z":-42.5},{"t":"22:40","z":-57},{"t":"22:42","z":-43.8},{"t":"22:43","z":-55.5},{"t":"22:45","z":-49.6},{"t":"22:47","z":-52.6},{"t":"22:48","z":-53.3},{"t":"22:50","z":-42.6},{"t":"22:51","z":-46.7},{"t":"22:53","z":-57},{"t":"22:55","z":-54.8},{"t":"22:56","z":-37.5},{"t":"22:58","z":-42.3},
      {"t":"23:00","z":null},{"t":"23:06","z":-43.8},{"t":"23:07","z":-54.8},{"t":"23:09","z":null},{"t":"23:11","z":-41.2},{"t":"23:12","z":-39},{"t":"23:14","z":-59.2},{"t":"23:16","z":-55.5},{"t":"23:17","z":-57.7},{"t":"23:19","z":-52.6},{"t":"23:20","z":-55.3},{"t":"23:21","z":-31.1},{"t":"23:23","z":-49.6},{"t":"23:24","z":-43},{"t":"23:25","z":-40.1},{"t":"23:26","z":-56.6},{"t":"23:28","z":-45.9},{"t":"23:29","z":-53.3},{"t":"23:30","z":-54.4},{"t":"23:31","z":-37.9},{"t":"23:33","z":-49.6},{"t":"23:34","z":-40.8},{"t":"23:35","z":-62},{"t":"23:36","z":-43.4},{"t":"23:38","z":-45.6},{"t":"23:39","z":-50},{"t":"23:41","z":-35.3},{"t":"23:42","z":-54.4},{"t":"23:43","z":-46.3},{"t":"23:45","z":-49.6},{"t":"23:47","z":-35.7},{"t":"23:48","z":-58.5},{"t":"23:49","z":-42.3},{"t":"23:50","z":-58.5},{"t":"23:51","z":-53.7},{"t":"23:53","z":-58.1},{"t":"23:54","z":-24.6},{"t":"23:55","z":-55.5},{"t":"23:57","z":-50.6},{"t":"23:58","z":-46.3}
    ]
  },
  "layer": [
    {
      "mark": {"type": "line", "strokeWidth": 2.3, "clip": true, "invalid": "break-paths-show-domains"},
      "encoding": {
        "x": {
          "field": "t",
          "type": "temporal",
          "scale": {"domain": [{"year": 1900, "month": 1, "date": 1, "hours": 0}, {"year": 1900, "month": 1, "date": 2, "hours": 0}]},
          "axis": {
            "title": null,
            "format": "%H:%M",
            "tickCount": 50,
            "values": [
              {"year": 1900, "month": 1, "date": 1, "hours": 0},
              {"year": 1900, "month": 1, "date": 1, "hours": 1},
              {"year": 1900, "month": 1, "date": 1, "hours": 2},
              {"year": 1900, "month": 1, "date": 1, "hours": 3},
              {"year": 1900, "month": 1, "date": 1, "hours": 4},
              {"year": 1900, "month": 1, "date": 1, "hours": 5},
              {"year": 1900, "month": 1, "date": 1, "hours": 6},
              {"year": 1900, "month": 1, "date": 1, "hours": 7},
              {"year": 1900, "month": 1, "date": 1, "hours": 8},
              {"year": 1900, "month": 1, "date": 1, "hours": 9},
              {"year": 1900, "month": 1, "date": 1, "hours": 10},
              {"year": 1900, "month": 1, "date": 1, "hours": 11},
              {"year": 1900, "month": 1, "date": 1, "hours": 12},
              {"year": 1900, "month": 1, "date": 1, "hours": 13},
              {"year": 1900, "month": 1, "date": 1, "hours": 14},
              {"year": 1900, "month": 1, "date": 1, "hours": 15},
              {"year": 1900, "month": 1, "date": 1, "hours": 16},
              {"year": 1900, "month": 1, "date": 1, "hours": 17},
              {"year": 1900, "month": 1, "date": 1, "hours": 18},
              {"year": 1900, "month": 1, "date": 1, "hours": 19},
              {"year": 1900, "month": 1, "date": 1, "hours": 20},
              {"year": 1900, "month": 1, "date": 1, "hours": 21},
              {"year": 1900, "month": 1, "date": 1, "hours": 22},
              {"year": 1900, "month": 1, "date": 1, "hours": 23}
            ],
            "labelExpr": "hours(datum.value) % 3 == 0 ? datum.label : ''",
            "labelOverlap": false,
            "tickSize": {"condition": {"test": "hours(datum.value) % 3 != 0", "value": 3.5}, "value": 7},
            "labelPadding": 4,
            "labelFlush": false,
            "domain": false,
            "grid": true,
            "gridColor": "#d3d3d3",
            "gridDash": [4, 3],
            "gridOpacity": {"condition": {"test": "hours(datum.value) % 3 != 0 || hours(datum.value) == 0", "value": 0}, "value": 1}
          }
        },
        "y": {
          "field": "z",
          "type": "quantitative",
          "scale": {"domain": [-60, 30], "nice": false, "zero": false},
          "axis": {
            "title": "Zₕ [dBZ]",
            "titleFontStyle": "italic",
            "titleFontSize": 19,
            "titlePadding": 11,
            "tickCount": 100,
            "values": [-60, -58, -56, -54, -52, -50, -48, -46, -44, -42, -40, -38, -36, -34, -32, -30, -28, -26, -24, -22, -20, -18, -16, -14, -12, -10, -8, -6, -4, -2, 0, 2, 4, 6, 8, 10, 12, 14, 16, 18, 20, 22, 24, 26, 28, 30],
            "labelExpr": "datum.value % 10 == 0 ? datum.label : ''",
            "labelOverlap": false,
            "tickSize": {"condition": {"test": "datum.value % 10 != 0", "value": 3.5}, "value": 7},
            "labelPadding": 4,
            "labelFlush": false,
            "domain": false,
            "grid": true,
            "gridColor": "#d3d3d3",
            "gridDash": [4, 3],
            "gridOpacity": {"condition": {"test": "datum.value % 10 != 0 || datum.value == -60 || datum.value == 30", "value": 0}, "value": 1}
          }
        },
        "color": {
          "datum": "Zₕ from DCR @ 153m",
          "scale": {"domain": ["Zₕ from DCR @ 153m", "Zₕ modeled from DD"], "range": ["#1f77b4", "black"]},
          "legend": {"title": null}
        }
      }
    },
    {
      "data": {"values": [{}]},
      "mark": {"type": "text", "text": "Reflectivity from RPG-Radiometer Physics RPG-FMCW-94 DCR and OTT HydroMet Parsivel2 disdrometer", "font": "DejaVu Sans", "fontSize": 16.6, "fontStyle": "italic", "color": "black", "align": "center", "baseline": "middle"},
      "encoding": {
        "x": {"datum": {"year": 1900, "month": 1, "date": 1, "hours": 12}, "type": "temporal"},
        "y": {"datum": 31.65, "type": "quantitative"}
      }
    },
    {
      "data": {"values": [{}]},
      "mark": {
        "type": "arc",
        "radius": 98.4,
        "radius2": 95.9,
        "theta": -0.82,
        "theta2": 0.82,
        "fill": {
          "gradient": "linear",
          "x1": 0, "y1": 0, "x2": 1, "y2": 0,
          "stops": [
            {"offset": 0, "color": "#8fd3cf"},
            {"offset": 0.4, "color": "#2f7f8c"},
            {"offset": 0.7, "color": "#1b2350"},
            {"offset": 1, "color": "#15173d"}
          ]
        }
      },
      "encoding": {
        "x": {"datum": {"year": 1900, "month": 1, "date": 1, "hours": 20, "minutes": 40, "seconds": 36}, "type": "temporal"},
        "y": {"datum": 32.72, "type": "quantitative"}
      }
    },
    {
      "data": {"values": [{}]},
      "mark": {"type": "rule", "color": "#15173d", "strokeWidth": 2},
      "encoding": {
        "x": {"datum": {"year": 1900, "month": 1, "date": 1, "hours": 21, "minutes": 24}, "type": "temporal"},
        "y": {"datum": 45.3, "type": "quantitative"},
        "y2": {"datum": 39.7}
      }
    },
    {
      "data": {"values": [{}]},
      "mark": {"type": "text", "text": "A  C  T  R  I  S", "font": "Lato", "fontSize": 33, "color": "#15173d", "align": "center", "baseline": "middle"},
      "encoding": {
        "x": {"datum": {"year": 1900, "month": 1, "date": 1, "hours": 20, "minutes": 38}, "type": "temporal"},
        "y": {"datum": 38, "type": "quantitative"}
      }
    },
    {
      "data": {"values": [{}]},
      "mark": {"type": "text", "text": "CCRES", "font": "Lato", "fontSize": 17, "color": "#15173d", "align": "center", "baseline": "middle"},
      "encoding": {
        "x": {"datum": {"year": 1900, "month": 1, "date": 1, "hours": 20, "minutes": 38}, "type": "temporal"},
        "y": {"datum": 35.0, "type": "quantitative"}
      }
    }
  ]
}
